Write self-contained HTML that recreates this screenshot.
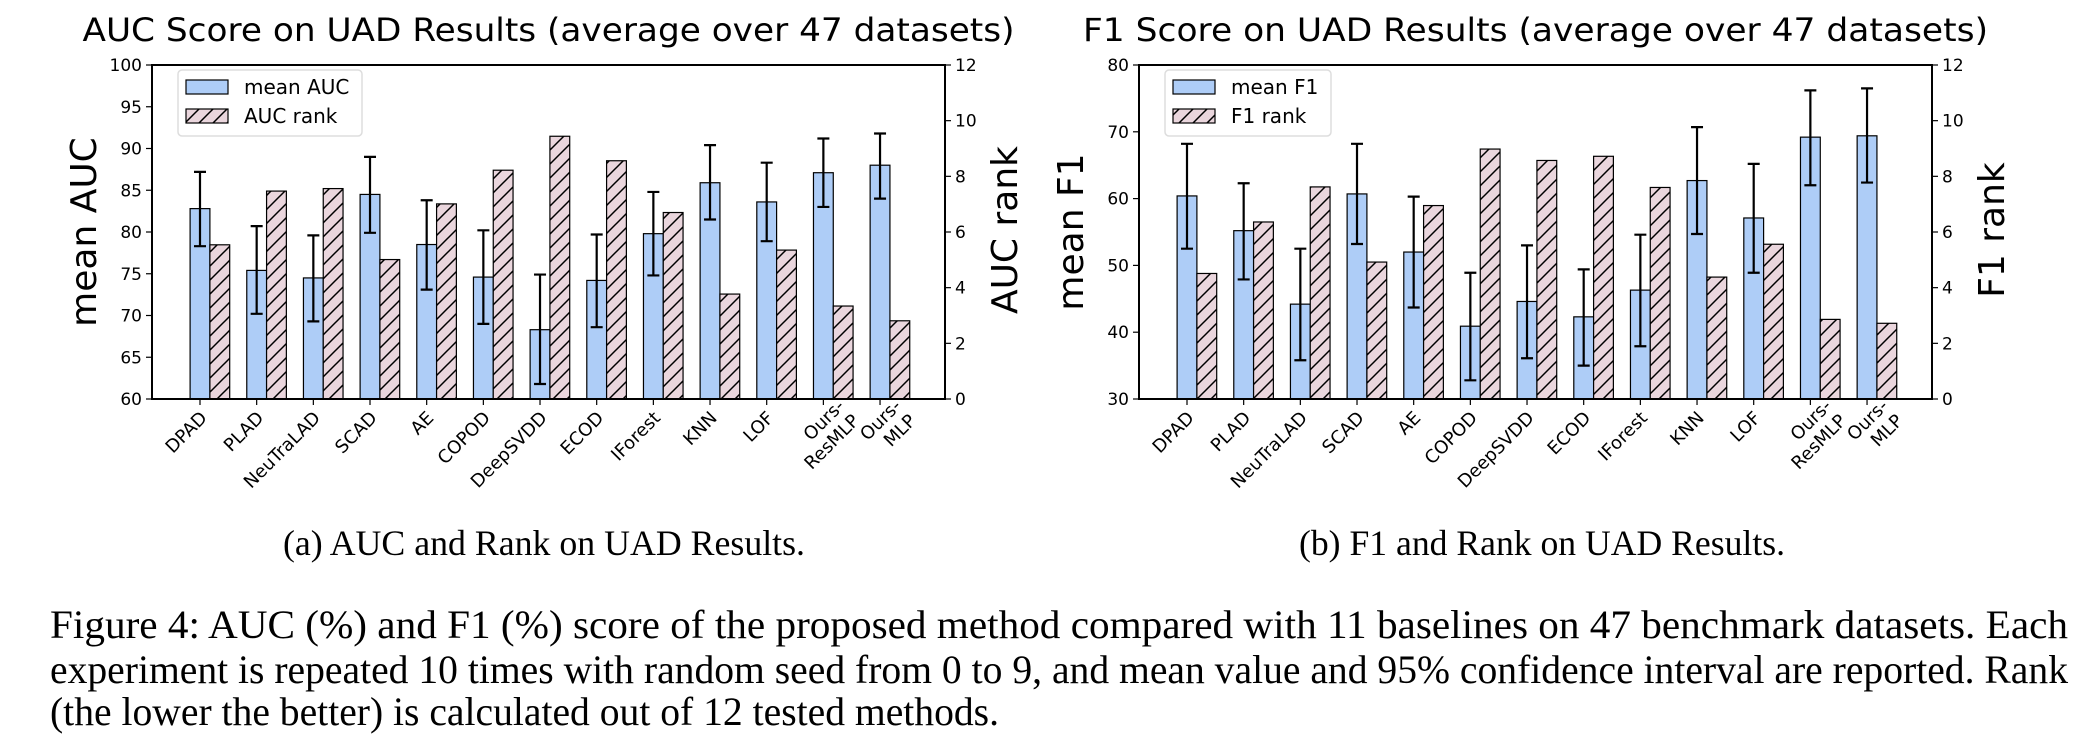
<!DOCTYPE html>
<html><head><meta charset="utf-8"><style>
html,body{margin:0;padding:0;background:#fff;}
svg{display:block;}
.t{font-family:"DejaVu Sans","Liberation Sans",sans-serif;fill:#000;}
.s{font-family:"Liberation Serif",serif;fill:#000;}
</style></head><body>
<svg id="fig" width="2094" height="746" viewBox="0 0 2094 746" xmlns="http://www.w3.org/2000/svg">
<defs>
<pattern id="hatch" patternUnits="userSpaceOnUse" width="14" height="14">
<rect width="14" height="14" fill="#ead6dd"/>
<path d="M-3.5,3.5 L3.5,-3.5 M0,14 L14,0 M10.5,17.5 L17.5,10.5" stroke="#000" stroke-width="1.5"/>
</pattern>
</defs>
<g id="chartA"></g>
<g id="chartB"></g>
<text class="s" x="283" y="555" font-size="36" textLength="522" lengthAdjust="spacingAndGlyphs">(a) AUC and Rank on UAD Results.</text>
<text class="s" x="1299" y="555" font-size="36" textLength="486" lengthAdjust="spacingAndGlyphs">(b) F1 and Rank on UAD Results.</text>
<text class="s" x="50" y="638" font-size="40" textLength="2018" lengthAdjust="spacingAndGlyphs">Figure 4: AUC (%) and F1 (%) score of the proposed method compared with 11 baselines on 47 benchmark datasets. Each</text>
<text class="s" x="50" y="683" font-size="40" textLength="2018" lengthAdjust="spacingAndGlyphs">experiment is repeated 10 times with random seed from 0 to 9, and mean value and 95% confidence interval are reported. Rank</text>
<text class="s" x="50" y="725" font-size="40" textLength="949" lengthAdjust="spacingAndGlyphs">(the lower the better) is calculated out of 12 tested methods.</text>
</svg>
<script>
const categories = ["DPAD","PLAD","NeuTraLAD","SCAD","AE","COPOD","DeepSVDD","ECOD","IForest","KNN","LOF","Ours-\nResMLP","Ours-\nMLP"];
const aucMean = [82.8,75.4,74.5,84.5,78.5,74.6,68.3,74.2,79.8,85.9,83.6,87.1,88.0];
const aucLow  = [78.3,70.2,69.3,79.9,73.1,69.0,61.8,68.6,74.8,81.5,78.9,83.0,84.0];
const aucHigh = [87.2,80.7,79.6,89.0,83.8,80.2,74.9,79.7,84.8,90.4,88.3,91.2,91.8];
const aucRank = [5.54,7.47,7.56,5.01,7.01,8.22,9.44,8.56,6.70,3.77,5.35,3.34,2.81];
const f1Mean = [60.4,55.2,44.2,60.7,52.0,40.9,44.6,42.3,46.3,62.7,57.1,69.2,69.4];
const f1Low  = [52.5,47.9,35.8,53.2,43.7,32.8,36.1,35.0,37.9,54.7,48.9,62.0,62.4];
const f1High = [68.2,62.3,52.5,68.2,60.3,48.9,53.0,49.4,54.6,70.7,65.2,76.2,76.5];
const f1Rank = [4.51,6.36,7.62,4.92,6.95,8.98,8.57,8.72,7.60,4.38,5.56,2.86,2.72];
const aucTicks = [60,65,70,75,80,85,90,95,100];
const f1Ticks = [30,40,50,60,70,80];
const rankTicks = [0,2,4,6,8,10,12];

const NS="http://www.w3.org/2000/svg";
function mk(parent,tag,attrs){const e=document.createElementNS(NS,tag);for(const k in attrs)e.setAttribute(k,attrs[k]);parent.appendChild(e);return e;}

function draw(g,o){
  const L=o.left,R=o.left+793,T=65,B=399;
  const xs=i=>L+48+i*56.67;
  const bw=19.8;
  const yL=v=>B-(v-o.ymin)/(o.ymax-o.ymin)*(B-T);
  const yR=v=>B-v/12*(B-T);
  const title=mk(g,'text',{class:'t',x:(L+R)/2,y:41,'font-size':32,'text-anchor':'middle',textLength:o.titleLen,lengthAdjust:'spacingAndGlyphs'});
  title.textContent=o.title;
  
  
  for(let i=0;i<categories.length;i++){
    const x=xs(i);
    const b=mk(g,'rect',{x:x-bw/2,y:yL(o.mean[i]),width:bw,height:B-yL(o.mean[i]),fill:'#aecdf7',stroke:'#000','stroke-width':1.2});
    
    
    const r=mk(g,'rect',{x:x+bw/2,y:yR(o.rank[i]),width:bw,height:B-yR(o.rank[i]),fill:'url(#hatch)',stroke:'#000','stroke-width':1.2});
    
    
    const eb=mk(g,'path',{d:`M${x},${yL(o.lo[i])}V${yL(o.hi[i])}M${x-6},${yL(o.lo[i])}H${x+6}M${x-6},${yL(o.hi[i])}H${x+6}`,stroke:'#000','stroke-width':2.2,fill:'none'});
    
    
    mk(g,'line',{x1:x,x2:x,y1:B,y2:B+6,stroke:'#000','stroke-width':1.2});
    const lines=categories[i].split('\n');
    const lt=mk(g,'text',{class:'t','font-size':18,'text-anchor':'end',transform:`translate(${x+8},${B+20}) rotate(-45)`});
    
    
    lines.forEach((s,j)=>{const ts=mk(lt,'tspan',{x:0,dy:j?21:0});ts.textContent=s;});
    if(lines.length>1){lt.setAttribute('transform',`translate(${x+22},${B+8}) rotate(-45)`);}
  }
  o.ticks.forEach(v=>{
    const y=yL(v);
    mk(g,'line',{x1:L-6,x2:L,y1:y,y2:y,stroke:'#000','stroke-width':1.2});
    const t=mk(g,'text',{class:'t',x:L-10,y:y+6,'font-size':17,'text-anchor':'end'});t.textContent=v;
    
    
  });
  rankTicks.forEach(v=>{
    const y=yR(v);
    mk(g,'line',{x1:R,x2:R+6,y1:y,y2:y,stroke:'#000','stroke-width':1.2});
    const t=mk(g,'text',{class:'t',x:R+10,y:y+6,'font-size':17});t.textContent=v;
    
    
  });
  const frame=mk(g,'rect',{x:L,y:T,width:R-L,height:B-T,fill:'none',stroke:'#000','stroke-width':2});
  
  
  const yl=mk(g,'text',{class:'t','font-size':36,'text-anchor':'middle',transform:`translate(${L-56},${(T+B)/2}) rotate(-90)`});
  yl.textContent=o.ylabel;
  
  
  const yr=mk(g,'text',{class:'t','font-size':36,'text-anchor':'middle',transform:`translate(${R+72},${(T+B)/2-2}) rotate(-90)`});
  yr.textContent=o.rlabel;
  
  
  const lg=mk(g,'g',{});
  
  
  mk(lg,'rect',{x:L+26,y:70,width:o.legW,height:66,rx:4,fill:'#fff','fill-opacity':0.8,stroke:'#ddd','stroke-width':1.5});
  mk(lg,'rect',{x:L+34,y:80,width:42,height:14,fill:'#aecdf7',stroke:'#000','stroke-width':1.2});
  mk(lg,'rect',{x:L+34,y:109,width:42,height:14,fill:'url(#hatch)',stroke:'#000','stroke-width':1.2});
  const t1=mk(lg,'text',{class:'t',x:L+92,y:94,'font-size':20});t1.textContent=o.leg1;
  const t2=mk(lg,'text',{class:'t',x:L+92,y:123,'font-size':20});t2.textContent=o.leg2;
}
draw(document.getElementById('chartA'),{left:152,ymin:60,ymax:100,mean:aucMean,lo:aucLow,hi:aucHigh,rank:aucRank,ticks:aucTicks,title:'AUC Score on UAD Results (average over 47 datasets)',titleLen:932,ylabel:'mean AUC',rlabel:'AUC rank',leg1:'mean AUC',leg2:'AUC rank',legW:184});
draw(document.getElementById('chartB'),{left:1139,ymin:30,ymax:80,mean:f1Mean,lo:f1Low,hi:f1High,rank:f1Rank,ticks:f1Ticks,title:'F1 Score on UAD Results (average over 47 datasets)',titleLen:905,ylabel:'mean F1',rlabel:'F1 rank',leg1:'mean F1',leg2:'F1 rank',legW:166});
</script>
</body></html>
